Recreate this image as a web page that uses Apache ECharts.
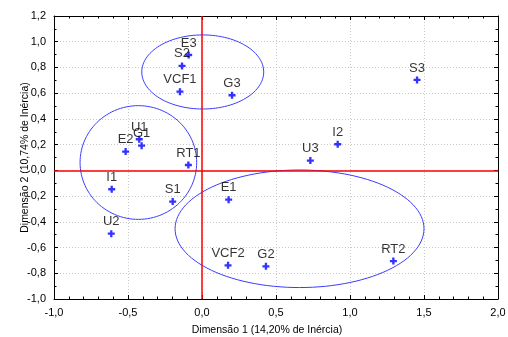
<!DOCTYPE html>
<html>
<head>
<meta charset="utf-8">
<script src="https://cdn.jsdelivr.net/npm/echarts@6/dist/echarts.min.js"></script>
<style>
  html, body { margin: 0; padding: 0; background: #fff; }
  #main { width: 508px; height: 337px; }
</style>
</head>
<body>
<div id="main"></div>
<script>
    // point labels and coordinates (dimension 1, dimension 2)
    var labels = ['E3', 'S2', 'VCF1', 'G3', 'U1', 'G1', 'E2', 'RT1', 'I1', 'S1', 'E1', 'U2', 'VCF2', 'G2', 'S3', 'I2', 'U3', 'RT2'];
    var dim1 = [-0.09, -0.135, -0.149, 0.203, -0.424, -0.408, -0.516, -0.092, -0.61, -0.198, 0.18, -0.613, 0.176, 0.432, 1.453, 0.917, 0.732, 1.293];
    var dim2 = [0.897, 0.812, 0.612, 0.584, 0.242, 0.192, 0.146, 0.042, -0.147, -0.243, -0.228, -0.492, -0.738, -0.746, 0.703, 0.203, 0.076, -0.705];

    // grouping ellipses: centre and radii in data units
    var ellCx = [0.005, -0.43, 0.659];
    var ellCy = [0.765, 0.061, -0.454];
    var ellRx = [0.412, 0.394, 0.841];
    var ellRy = [0.288, 0.442, 0.457];

    var font = 'Liberation Sans, Arial, sans-serif';

    var points = labels.map(function (name, i) {
        return { name: name, value: [dim1[i], dim2[i]] };
    });
    var ellipses = ellCx.map(function (cx, i) {
        return [cx, ellCy[i], ellRx[i], ellRy[i]];
    });

    function fmt(v) {
        return v.toFixed(1).replace('.', ',');
    }

    var myChart = echarts.init(document.getElementById('main'));
    var option = {
        animation: false,
        textStyle: { fontFamily: font },
        grid: { left: 54, right: 10, top: 16, bottom: 38, outerBoundsMode: 'none', containLabel: false },
        xAxis: [{
            type: 'value',
            min: -1,
            max: 2,
            interval: 0.5,
            name: 'Dimensão 1 (14,20% de Inércia)',
            nameLocation: 'middle',
            nameGap: 26,
            nameMoveOverlap: false,
            nameTextStyle: { color: '#000', fontSize: 10.5, fontFamily: font, padding: [0, 18, 0, 0] },
            axisLine: { onZero: false, lineStyle: { color: '#000', width: 1 } },
            axisTick: { inside: true, length: 4, lineStyle: { color: '#000' } },
            minorTick: { show: true, splitNumber: 5, length: 2.5, lineStyle: { color: '#000' } },
            axisLabel: { color: '#000', fontSize: 11, margin: 8, formatter: fmt },
            splitLine: { show: true, lineStyle: { color: '#c8c8c8', type: [1, 2] } }
        }, {
            type: 'value',
            position: 'top',
            min: -1,
            max: 2,
            interval: 0.5,
            axisLine: { onZero: false, lineStyle: { color: '#000', width: 1 } },
            axisTick: { inside: true, length: 4, lineStyle: { color: '#000' } },
            minorTick: { show: true, splitNumber: 5, length: 2.5, lineStyle: { color: '#000' } },
            axisLabel: { show: false },
            splitLine: { show: false }
        }],
        yAxis: [{
            type: 'value',
            min: -1,
            max: 1.2,
            interval: 0.2,
            name: 'Dimensão 2 (10,74% de Inércia)',
            nameLocation: 'middle',
            nameGap: 23,
            nameMoveOverlap: false,
            nameTextStyle: { color: '#000', fontSize: 10.5, fontFamily: font },
            axisLine: { onZero: false, lineStyle: { color: '#000', width: 1 } },
            axisTick: { inside: true, length: 4, lineStyle: { color: '#000' } },
            minorTick: { show: true, splitNumber: 2, length: 2.5, lineStyle: { color: '#000' } },
            axisLabel: { color: '#000', fontSize: 11, margin: 8, formatter: fmt },
            splitLine: { show: true, lineStyle: { color: '#c8c8c8', type: [1, 2] } }
        }, {
            type: 'value',
            position: 'right',
            min: -1,
            max: 1.2,
            interval: 0.2,
            axisLine: { onZero: false, lineStyle: { color: '#000', width: 1 } },
            axisTick: { inside: true, length: 4, lineStyle: { color: '#000' } },
            minorTick: { show: true, splitNumber: 2, length: 2.5, lineStyle: { color: '#000' } },
            axisLabel: { show: false },
            splitLine: { show: false }
        }],
        series: [{
            type: 'custom',
            xAxisIndex: 0,
            yAxisIndex: 0,
            silent: true,
            z: 3,
            encode: { x: 0, y: 1 },
            data: ellipses,
            renderItem: function (params, api) {
                var cx = api.value(0), cy = api.value(1);
                var rx = api.value(2), ry = api.value(3);
                var pts = [];
                for (var k = 0; k < 120; k++) {
                    var a = k / 120 * Math.PI * 2;
                    pts.push(api.coord([cx + rx * Math.cos(a), cy + ry * Math.sin(a)]));
                }
                return {
                    type: 'polygon',
                    shape: { points: pts },
                    style: { fill: 'none', stroke: '#3b3bff', lineWidth: 1 }
                };
            }
        }, {
            type: 'scatter',
            xAxisIndex: 0,
            yAxisIndex: 0,
            z: 4,
            symbol: 'path://M3,0h3v3h3v3h-3v3h-3v-3h-3v-3h3z',
            symbolSize: 7,
            itemStyle: { color: '#0000ff' },
            label: {
                show: true,
                position: 'top',
                distance: 2,
                color: '#000',
                fontSize: 13,
                fontFamily: font,
                formatter: '{b}'
            },
            data: points,
            markLine: {
                silent: true,
                symbol: 'none',
                label: { show: false },
                lineStyle: { color: '#ff0000', type: 'solid', width: 1.5 },
                data: [{ xAxis: 0 }, { yAxis: 0 }]
            }
        }]
    };
    myChart.setOption(option);
</script>
</body>
</html>
